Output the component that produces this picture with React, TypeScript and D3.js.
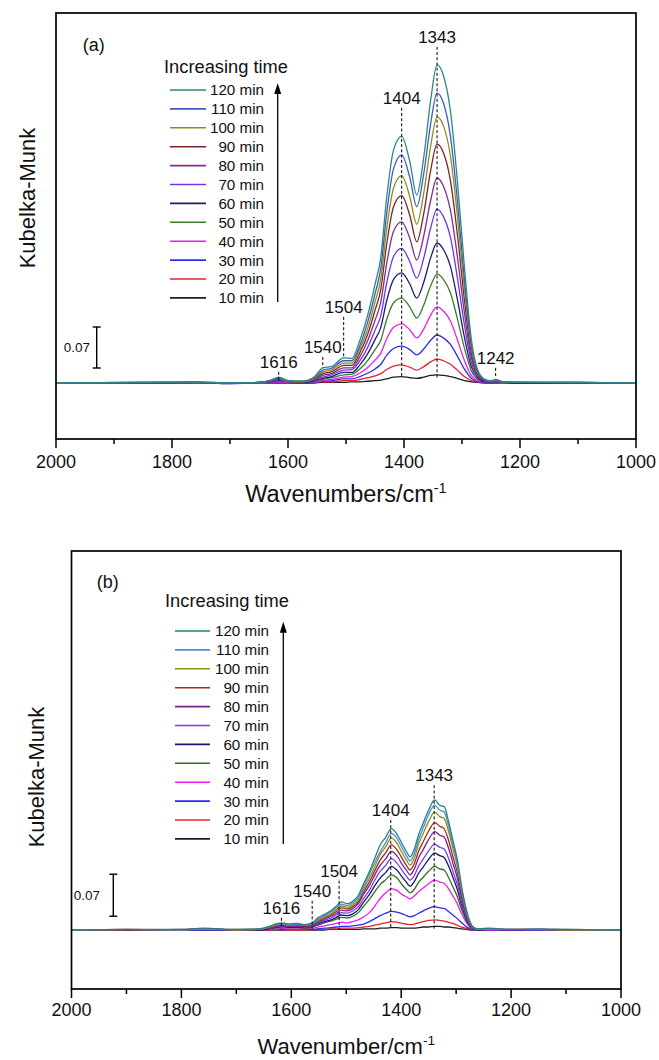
import React from 'react';
import * as d3 from 'd3';

const FONT = "Arial, 'Liberation Sans', Helvetica, sans-serif";

const timeLabels = ['10 min', '20 min', '30 min', '40 min', '50 min', '60 min', '70 min', '80 min', '90 min', '100 min', '110 min', '120 min'];

const colorsA = ['#1e1e1e', '#e3242b', '#2b2bf0', '#ee1cee', '#3a7d28', '#1d1d6b', '#6f34f5', '#7c3190', '#7e2323', '#8e8e1a', '#3c5cbf', '#2e8585'];
const colorsB = ['#1e1e1e', '#e3242b', '#2b2bf0', '#ee1cee', '#2f6f1f', '#17176a', '#7a3cff', '#7a1f96', '#9e2d16', '#8e8e1a', '#4b8ed6', '#2a7e80'];

// ---------- panel (a) ----------
const wnA = [2000, 1850, 1760, 1700, 1650, 1630, 1616, 1600, 1575, 1555, 1540, 1525, 1504, 1490, 1476, 1462, 1450, 1440, 1430, 1418, 1404, 1390, 1378, 1366, 1354, 1343, 1332, 1320, 1308, 1296, 1284, 1272, 1260, 1250, 1242, 1230, 1200, 1100, 1000];

const a10 = [0, 0, 0, 0, 0, 0, 0, 0, 0, 0, .001, .001, .001, .002, .002, .003, .004, .005, .007, .010, .011, .009, .008, .010, .013, .014, .013, .011, .008, .004, .002, .001, 0, 0, 0, 0, 0, 0, 0];
const a20 = [0, 0, 0, 0, 0, 0, .001, 0, 0, .001, .002, .002, .004, .004, .006, .009, .012, .016, .023, .029, .031, .027, .022, .028, .036, .041, .038, .032, .022, .011, .004, .001, 0, 0, 0, 0, 0, 0, 0];
const a30 = [0, 0, 0, 0, 0, .001, .002, .001, 0, .001, .003, .004, .007, .007, .011, .017, .024, .032, .047, .059, .063, .057, .048, .058, .073, .082, .077, .066, .046, .024, .008, .002, .001, 0, .001, 0, 0, 0, 0];
const a40 = [0, 0, 0, 0, 0, .001, .003, .001, .001, .002, .004, .006, .010, .011, .017, .027, .039, .051, .075, .095, .101, .091, .077, .092, .116, .130, .123, .106, .074, .039, .013, .004, .001, .001, .001, 0, 0, 0, 0];
const a50 = [0, 0, 0, 0, 0, .002, .004, .002, .001, .003, .006, .009, .014, .015, .024, .039, .057, .073, .108, .137, .145, .130, .111, .133, .166, .186, .177, .154, .110, .060, .021, .006, .002, .001, .002, .001, 0, 0, 0];
const a60 = [0, 0, .001, 0, .001, .002, .005, .002, .001, .004, .008, .011, .018, .018, .031, .051, .074, .095, .140, .177, .188, .169, .145, .172, .214, .239, .228, .199, .143, .079, .028, .008, .002, .002, .002, .001, 0, 0, 0];
const a70 = [0, 0, .001, -.001, .001, .003, .006, .002, .002, .005, .010, .014, .022, .023, .038, .062, .090, .115, .170, .216, .230, .207, .179, .213, .265, .297, .284, .249, .180, .100, .036, .010, .003, .002, .003, .001, .001, 0, 0];
const a80 = [0, 0, .001, -.001, .001, .003, .007, .003, .002, .006, .013, .016, .026, .026, .045, .074, .107, .138, .203, .259, .275, .247, .210, .251, .312, .350, .336, .295, .216, .121, .044, .012, .004, .002, .003, .001, .001, 0, 0];
const a90 = [0, .001, .001, 0, .001, .004, .008, .003, .002, .007, .016, .019, .030, .030, .052, .085, .124, .160, .236, .301, .320, .286, .241, .289, .363, .408, .393, .346, .254, .143, .052, .014, .004, .003, .004, .002, .001, .001, 0];
const a100 = [0, .001, .001, 0, .001, .004, .008, .003, .002, .008, .019, .022, .034, .034, .058, .095, .138, .178, .262, .333, .354, .318, .271, .324, .405, .454, .439, .388, .286, .163, .060, .016, .005, .003, .004, .002, .001, .001, 0];
const a110 = [0, .001, .002, 0, .001, .004, .009, .004, .003, .009, .022, .025, .038, .038, .064, .106, .152, .196, .288, .366, .389, .351, .301, .357, .443, .495, .478, .422, .312, .178, .066, .018, .005, .003, .005, .002, .001, .001, 0];
const a120 = [0, .001, .002, 0, .001, .005, .010, .004, .003, .010, .026, .028, .043, .042, .073, .118, .168, .215, .315, .398, .421, .378, .321, .385, .483, .543, .525, .465, .345, .200, .075, .020, .006, .004, .006, .002, .001, .001, 0];
const seriesA = [a10, a20, a30, a40, a50, a60, a70, a80, a90, a100, a110, a120];

const peakTextA = ['1616', '1540', '1504', '1404', '1343', '1242'];
const peakWnA = [1616, 1540, 1504, 1404, 1343, 1242];
const peakLabelLevelA = [0.036, 0.0615, 0.130, 0.487, 0.591, 0.043];
const peakLineEndA = [0.003, 0.026, 0.043, 0.008, 0.008, 0.010];

// ---------- panel (b) ----------
const wnB = [2000, 1900, 1800, 1760, 1700, 1660, 1640, 1625, 1616, 1605, 1590, 1575, 1562, 1552, 1540, 1528, 1518, 1509, 1498, 1488, 1478, 1468, 1458, 1448, 1438, 1428, 1418, 1408, 1398, 1390, 1384, 1376, 1368, 1360, 1350, 1339, 1330, 1322, 1314, 1306, 1298, 1290, 1282, 1274, 1266, 1258, 1240, 1200, 1150, 1100, 1000];

const b10 = [0, 0, 0, 0, 0, 0, 0, 0, 0, 0, 0, 0, 0, 0, 0, .001, .001, .001, .001, .001, .001, .002, .002, .002, .003, .003, .004, .004, .003, .003, .003, .003, .004, .005, .005, .006, .006, .005, .005, .004, .003, .002, .001, 0, 0, 0, 0, 0, 0, 0, 0];
const b20 = [0, 0, 0, 0, 0, 0, 0, .001, .001, 0, 0, 0, .001, .001, .001, .002, .002, .003, .003, .003, .004, .005, .006, .008, .010, .012, .014, .013, .011, .010, .009, .010, .012, .014, .016, .017, .016, .015, .013, .011, .008, .005, .003, .001, 0, 0, 0, 0, 0, 0, 0];
const b30 = [0, 0, 0, 0, 0, 0, .001, .001, .001, .001, .001, .001, .001, .002, .003, .004, .005, .006, .006, .007, .008, .010, .014, .019, .024, .028, .031, .030, .027, .024, .022, .024, .028, .032, .036, .039, .037, .036, .031, .025, .019, .012, .006, .002, 0, 0, 0, 0, 0, 0, 0];
const b40 = [0, 0, 0, .001, 0, 0, .001, .002, .003, .002, .002, .002, .003, .005, .007, .009, .011, .013, .012, .014, .017, .022, .029, .040, .053, .062, .069, .066, .059, .055, .052, .057, .064, .070, .077, .083, .080, .078, .069, .057, .044, .027, .013, .004, .001, 0, 0, 0, 0, 0, 0];
const b50 = [0, 0, 0, .001, 0, 0, .002, .004, .005, .004, .004, .003, .005, .008, .012, .015, .018, .021, .020, .023, .029, .040, .051, .064, .076, .084, .092, .087, .075, .067, .062, .068, .080, .088, .098, .106, .102, .100, .088, .072, .056, .034, .017, .005, .001, 0, .001, 0, 0, 0, 0];
const b60 = [0, 0, 0, .001, 0, 0, .002, .005, .006, .005, .005, .004, .006, .010, .014, .017, .021, .025, .024, .027, .034, .047, .059, .074, .087, .096, .106, .100, .088, .079, .073, .081, .095, .105, .118, .128, .124, .121, .107, .088, .068, .041, .020, .006, .002, 0, .001, 0, 0, 0, 0];
const b70 = [0, 0, 0, .001, 0, .001, .003, .006, .007, .006, .006, .005, .007, .012, .016, .020, .025, .029, .028, .032, .039, .053, .066, .083, .098, .108, .119, .112, .099, .089, .083, .091, .107, .118, .132, .143, .138, .135, .120, .098, .076, .046, .023, .007, .002, .001, .001, 0, 0, 0, 0];
const b80 = [0, 0, 0, .002, 0, .001, .004, .007, .008, .006, .007, .006, .008, .013, .018, .023, .028, .033, .032, .036, .044, .060, .074, .092, .108, .119, .131, .124, .109, .099, .092, .102, .121, .134, .151, .164, .158, .155, .137, .112, .087, .053, .026, .008, .002, .001, .001, 0, .001, 0, 0];
const b90 = [0, 0, .001, .002, 0, .001, .004, .008, .009, .007, .008, .007, .009, .015, .020, .025, .031, .037, .035, .039, .047, .064, .080, .099, .117, .129, .142, .134, .119, .107, .100, .111, .132, .147, .165, .179, .173, .169, .150, .123, .096, .058, .029, .009, .002, .001, .002, .001, .001, 0, 0];
const b100 = [0, .001, 0, .002, 0, .001, .005, .009, .010, .008, .009, .008, .010, .016, .022, .027, .034, .040, .038, .042, .050, .069, .086, .106, .126, .139, .153, .145, .128, .116, .108, .120, .144, .161, .181, .197, .189, .186, .165, .136, .107, .065, .032, .010, .003, .001, .002, .001, .001, 0, 0];
const b110 = [0, .001, 0, .002, .001, .001, .005, .010, .011, .009, .010, .009, .011, .018, .024, .030, .037, .043, .041, .045, .054, .073, .093, .113, .131, .146, .161, .153, .136, .123, .115, .128, .152, .170, .193, .208, .200, .197, .174, .143, .112, .068, .034, .011, .003, .001, .002, .001, .001, .001, 0];
const b120 = [0, .001, .001, .003, .001, .002, .006, .011, .012, .010, .011, .009, .012, .020, .026, .032, .040, .047, .044, .048, .058, .078, .097, .120, .142, .155, .169, .160, .143, .130, .122, .135, .160, .178, .200, .217, .208, .206, .182, .150, .118, .072, .036, .012, .003, .002, .003, .001, .002, .001, 0];
const seriesB = [b10, b20, b30, b40, b50, b60, b70, b80, b90, b100, b110, b120];

const peakTextB = ['1616', '1540', '1504', '1404', '1343'];
const peakWnB = [1618, 1562, 1513, 1419, 1340];
const peakLabelLevelB = [0.037, 0.0655, 0.099, 0.200, 0.258];
const peakLineEndB = [0.002, 0.002, 0.002, 0.002, 0.002];

const xTicksMajor = [2000, 1800, 1600, 1400, 1200, 1000];
const xTicksMinor = [1900, 1700, 1500, 1300, 1100];
const scaleBarValue = 0.07;

type PanelCfg = {
  left: number; right: number; top: number; bottom: number;
  yDomain: [number, number];
  wn: number[]; series: number[][]; colors: string[];
  tag: string; tagX: number; tagY: number;
  legTitleX: number; legTitleY: number;
  lineX0: number; lineX1: number; textRight: number; row0: number; rowStep: number;
  arrowX: number; arrowTop: number; arrowBottom: number;
  barX: number; barFrom: number; barLabelRight: number;
  xTitle: string; xTitleY: number; xTitleSize: number; tickLabelY: number;
  yTitleX: number; yTitleY: number;
  peakText: string[]; peakWn: number[]; peakLevel: number[]; peakEnd: number[];
};

function Panel({ c }: { c: PanelCfg }) {
  const x = d3.scaleLinear().domain([2000, 1000]).range([c.left, c.right]);
  const y = d3.scaleLinear().domain(c.yDomain).range([c.bottom, c.top]);
  const line = d3.line<[number, number]>().x(d => x(d[0])).y(d => y(d[1])).curve(d3.curveMonotoneX);
  const legendOrder = d3.range(c.series.length).reverse();
  const cx = (c.left + c.right) / 2;
  return (
    <g>
      {c.series.map((s, i) => (
        <path key={i} d={line(c.wn.map((w, j) => [w, s[j] ?? 0] as [number, number])) || ''}
          fill="none" stroke={c.colors[i]} strokeWidth={1.3} strokeLinejoin="round" />
      ))}
      <rect x={c.left} y={c.top} width={c.right - c.left} height={c.bottom - c.top} fill="none" stroke="#000" strokeWidth={1.7} />
      {xTicksMajor.map(t => (
        <g key={'M' + t}>
          <line x1={x(t)} x2={x(t)} y1={c.bottom} y2={c.bottom + 9} stroke="#000" strokeWidth={1.5} />
          <text x={x(t)} y={c.tickLabelY} textAnchor="middle" fontSize={18} fontFamily={FONT} fill="#111">{t}</text>
        </g>
      ))}
      {xTicksMinor.map(t => (
        <line key={'m' + t} x1={x(t)} x2={x(t)} y1={c.bottom} y2={c.bottom + 5} stroke="#000" strokeWidth={1.5} />
      ))}
      <text x={cx} y={c.xTitleY} textAnchor="middle" fontSize={c.xTitleSize} fontFamily={FONT} fill="#111">
        {c.xTitle}<tspan fontSize={c.xTitleSize * 0.62} dy={-c.xTitleSize * 0.4}>-1</tspan>
      </text>
      <text transform={`translate(${c.yTitleX},${c.yTitleY}) rotate(-90)`} textAnchor="middle" dominantBaseline="central"
        fontSize={22} fontFamily={FONT} fill="#111">Kubelka-Munk</text>
      <text x={c.tagX} y={c.tagY} fontSize={18} fontFamily={FONT} fill="#111">{c.tag}</text>
      <text x={c.legTitleX} y={c.legTitleY} fontSize={18.3} fontFamily={FONT} fill="#111">Increasing time</text>
      {legendOrder.map((si, r) => {
        const yy = c.row0 + r * c.rowStep;
        return (
          <g key={'l' + si}>
            <line x1={c.lineX0} x2={c.lineX1} y1={yy} y2={yy} stroke={c.colors[si]} strokeWidth={1.6} />
            <text x={c.textRight} y={yy + 5.4} textAnchor="end" fontSize={15.2} fontFamily={FONT} fill="#111">{timeLabels[si]}</text>
          </g>
        );
      })}
      <line x1={c.arrowX} x2={c.arrowX} y1={c.arrowBottom} y2={c.arrowTop + 8} stroke="#000" strokeWidth={1.3} />
      <path d={`M${c.arrowX},${c.arrowTop} L${c.arrowX - 3.5},${c.arrowTop + 11} L${c.arrowX + 3.5},${c.arrowTop + 11} Z`} fill="#000" />
      <g stroke="#000" strokeWidth={1.4}>
        <line x1={c.barX} x2={c.barX} y1={y(c.barFrom)} y2={y(c.barFrom + scaleBarValue)} />
        <line x1={c.barX - 4} x2={c.barX + 4} y1={y(c.barFrom)} y2={y(c.barFrom)} />
        <line x1={c.barX - 4} x2={c.barX + 4} y1={y(c.barFrom + scaleBarValue)} y2={y(c.barFrom + scaleBarValue)} />
      </g>
      <text x={c.barLabelRight} y={y(c.barFrom + scaleBarValue / 2) + 4.7} textAnchor="end" fontSize={13.5} fontFamily={FONT} fill="#111">{scaleBarValue}</text>
      {c.peakText.map((t, i) => {
        const px = x(c.peakWn[i]);
        const ly = y(c.peakLevel[i]);
        return (
          <g key={'p' + t}>
            <text x={px} y={ly + 6} textAnchor="middle" fontSize={17} fontFamily={FONT} fill="#111">{t}</text>
            <line x1={px} x2={px} y1={ly + 10} y2={y(c.peakEnd[i])} stroke="#000" strokeWidth={1} strokeDasharray="3,2.2" />
          </g>
        );
      })}
    </g>
  );
}

const cfgA: PanelCfg = {
  left: 56, right: 636, top: 13, bottom: 439, yDomain: [-0.0956, 0.6317],
  wn: wnA, series: seriesA, colors: colorsA,
  tag: '(a)', tagX: 82.7, tagY: 50.5,
  legTitleX: 164, legTitleY: 72.5,
  lineX0: 170, lineX1: 206, textRight: 264, row0: 90, rowStep: 18.9,
  arrowX: 277.7, arrowTop: 83, arrowBottom: 302,
  barX: 96.7, barFrom: 0.0256, barLabelRight: 90,
  xTitle: 'Wavenumbers/cm', xTitleY: 502, xTitleSize: 23.5, tickLabelY: 468,
  yTitleX: 27, yTitleY: 198,
  peakText: peakTextA, peakWn: peakWnA, peakLevel: peakLabelLevelA, peakEnd: peakLineEndA,
};

const cfgB: PanelCfg = {
  left: 71.5, right: 621, top: 551, bottom: 989, yDomain: [-0.0983, 0.6317],
  wn: wnB, series: seriesB, colors: colorsB,
  tag: '(b)', tagX: 96.7, tagY: 588,
  legTitleX: 165, legTitleY: 607,
  lineX0: 175, lineX1: 210, textRight: 269, row0: 631, rowStep: 18.9,
  arrowX: 283.3, arrowTop: 621.7, arrowBottom: 844,
  barX: 113.3, barFrom: 0.023, barLabelRight: 100,
  xTitle: 'Wavenumber/cm', xTitleY: 1054, xTitleSize: 22, tickLabelY: 1016,
  yTitleX: 36, yTitleY: 777,
  peakText: peakTextB, peakWn: peakWnB, peakLevel: peakLabelLevelB, peakEnd: peakLineEndB,
};

export default function App() {
  return (
    <svg width={659} height={1060} viewBox="0 0 659 1060"
      style={{ position: 'absolute', left: 0, top: 0, display: 'block', background: '#fff' }}>
      <rect x={0} y={0} width={659} height={1060} fill="#fff" />
      <Panel c={cfgA} />
      <Panel c={cfgB} />
    </svg>
  );
}
